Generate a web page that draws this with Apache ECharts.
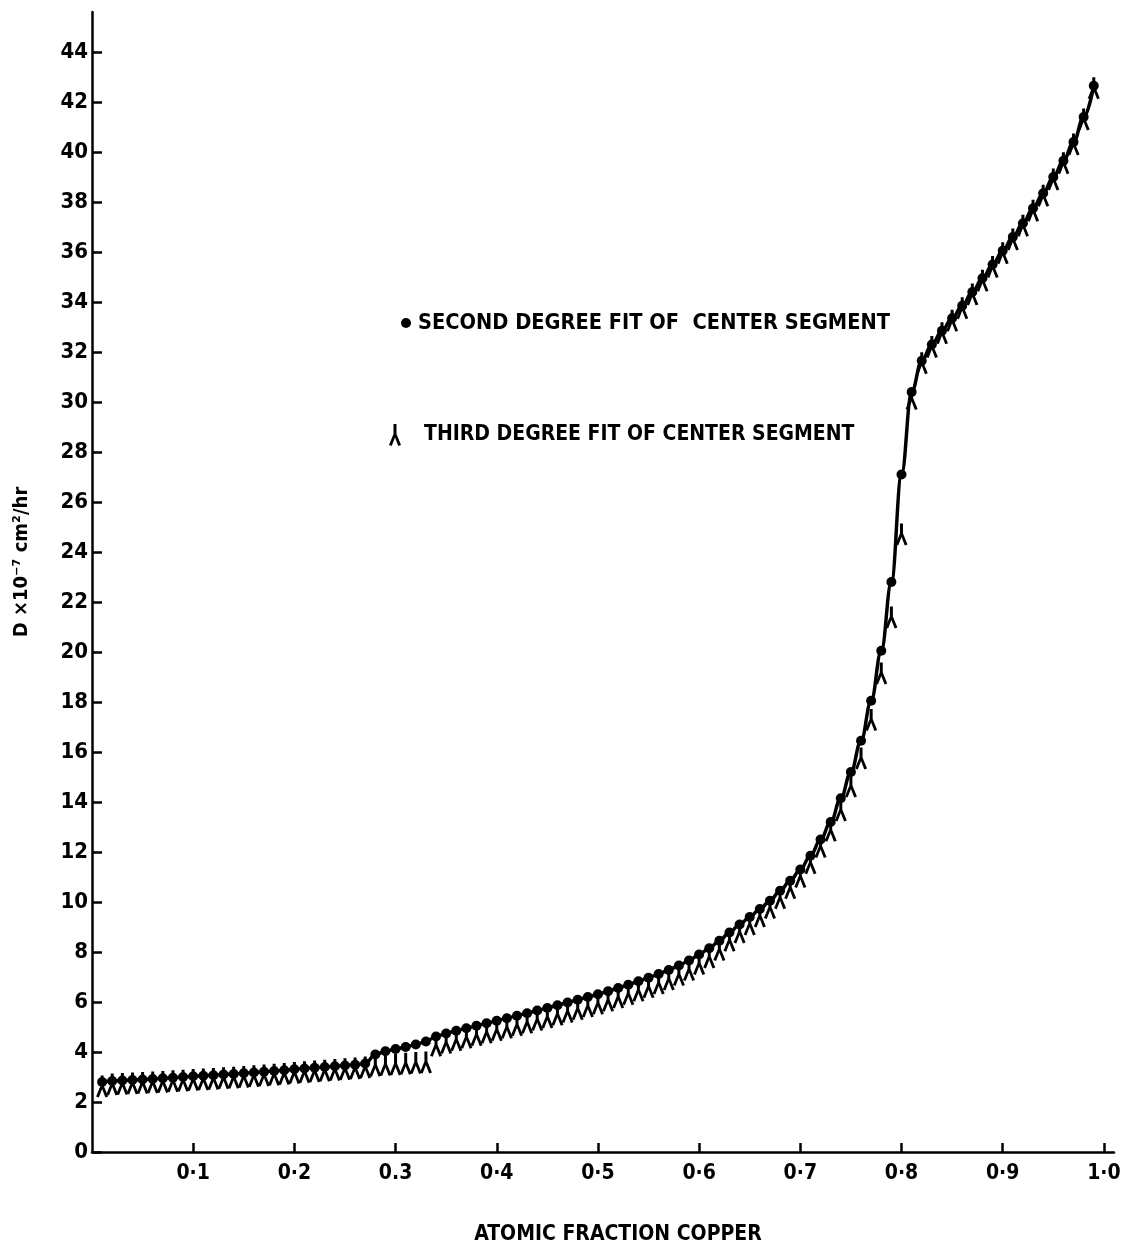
<!DOCTYPE html>
<html>
<head>
<meta charset="utf-8">
<script src="https://cdn.jsdelivr.net/npm/echarts@6/dist/echarts.min.js"></script>
<style>
html,body{margin:0;padding:0;background:#fff;}
#chart{width:1125px;height:1249px;}
</style>
</head>
<body>
<div id="chart"></div>
<script>
// Atomic fraction copper (x) for each fitted point
const atomicFraction = [
  0.01,0.02,0.03,0.04,0.05,0.06,0.07,0.08,0.09,0.10,
  0.11,0.12,0.13,0.14,0.15,0.16,0.17,0.18,0.19,0.20,
  0.21,0.22,0.23,0.24,0.25,0.26,0.27,0.28,0.29,0.30,
  0.31,0.32,0.33,0.34,0.35,0.36,0.37,0.38,0.39,0.40,
  0.41,0.42,0.43,0.44,0.45,0.46,0.47,0.48,0.49,0.50,
  0.51,0.52,0.53,0.54,0.55,0.56,0.57,0.58,0.59,0.60,
  0.61,0.62,0.63,0.64,0.65,0.66,0.67,0.68,0.69,0.70,
  0.71,0.72,0.73,0.74,0.75,0.76,0.77,0.78,0.79,0.80,
  0.81,0.82,0.83,0.84,0.85,0.86,0.87,0.88,0.89,0.90,
  0.91,0.92,0.93,0.94,0.95,0.96,0.97,0.98,0.99
];
// D x 10^-7 cm^2/hr, second degree fit of center segment
const secondDegree = [
  2.80,2.84,2.86,2.88,2.90,2.92,2.95,2.97,3.00,3.03,
  3.05,3.07,3.10,3.12,3.15,3.18,3.21,3.24,3.27,3.31,
  3.34,3.37,3.40,3.43,3.46,3.49,3.54,3.90,4.03,4.12,
  4.20,4.30,4.42,4.62,4.74,4.85,4.95,5.05,5.15,5.25,
  5.35,5.45,5.55,5.66,5.76,5.87,5.98,6.09,6.20,6.31,
  6.43,6.56,6.69,6.83,6.97,7.12,7.28,7.46,7.66,7.90,
  8.15,8.45,8.78,9.10,9.40,9.72,10.05,10.45,10.85,11.30,
  11.85,12.50,13.20,14.15,15.20,16.45,18.05,20.05,22.80,27.10,
  30.40,31.65,32.30,32.85,33.35,33.85,34.40,34.95,35.50,36.05,
  36.60,37.15,37.75,38.35,39.00,39.65,40.40,41.40,42.65
];
// D x 10^-7 cm^2/hr, third degree fit of center segment
const thirdDegree = [
  2.62,2.70,2.72,2.74,2.76,2.78,2.80,2.83,2.85,2.88,
  2.90,2.92,2.95,2.97,3.00,3.03,3.06,3.09,3.12,3.16,
  3.19,3.22,3.25,3.28,3.31,3.34,3.38,3.45,3.48,3.50,
  3.53,3.56,3.58,4.25,4.36,4.47,4.57,4.67,4.77,4.87,
  4.97,5.07,5.17,5.28,5.38,5.49,5.60,5.71,5.82,5.93,
  6.05,6.18,6.31,6.45,6.59,6.74,6.90,7.08,7.28,7.52,
  7.78,8.08,8.45,8.78,9.10,9.42,9.76,10.15,10.55,11.00,
  11.55,12.20,12.85,13.66,14.62,15.74,17.28,19.14,21.38,24.70,
  30.12,31.55,32.20,32.75,33.25,33.75,34.30,34.85,35.40,35.95,
  36.50,37.05,37.65,38.25,38.90,39.55,40.30,41.30,42.55
];
const xTickValues = [0.1,0.2,0.3,0.4,0.5,0.6,0.7,0.8,0.9,1.0];
const xTickLabels = ['0·1','0·2','0.3','0·4','0·5','0·6','0·7','0·8','0·9','1·0'];
const yTickValues = [0,2,4,6,8,10,12,14,16,18,20,22,24,26,28,30,32,34,36,38,40,42,44];
const seriesNames = ['SECOND DEGREE FIT OF  CENTER SEGMENT', 'THIRD DEGREE FIT OF CENTER SEGMENT'];

const FONT = "'DejaVu Sans Condensed', 'Liberation Sans Narrow', sans-serif";
const LAMBDA = 'path://M4.5,0 L7.5,0 L7.5,10 L12,21 L9.3,22 L6,13.5 L2.7,22 L0,21 L4.5,10 Z';

const pairs2 = atomicFraction.map((x, i) => [x, secondDegree[i]]);
const pairs3 = atomicFraction.map((x, i) => [x, thirdDegree[i]]);

const chart = echarts.init(document.getElementById('chart'), null, {renderer: 'canvas'});
chart.setOption({
  backgroundColor: '#ffffff',
  animation: false,
  grid: {left: 92, right: 11, top: 12, bottom: 97, containLabel: false, outerBoundsMode: 'none'},
  legend: [
    {
      data: [{name: seriesNames[0], icon: 'circle'}],
      left: 396, top: 307, itemWidth: 10, itemHeight: 10,
      textStyle: {fontFamily: FONT, fontWeight: 'bold', fontSize: 21.6, color: '#000', padding: [0,0,0,2]},
      selectedMode: false
    },
    {
      data: [{name: seriesNames[1], icon: LAMBDA, itemStyle: {opacity: 1}}],
      left: 384, top: 419, itemWidth: 12, itemHeight: 22,
      textStyle: {fontFamily: FONT, fontWeight: 'bold', fontSize: 21, color: '#000', padding: [0,0,0,18]},
      selectedMode: false
    }
  ],
  xAxis: {
    type: 'value', min: 0, max: 1.01,
    name: 'ATOMIC FRACTION COPPER',
    nameLocation: 'middle', nameGap: 72,
    nameTextStyle: {fontFamily: FONT, fontWeight: 'bold', fontSize: 21, color: '#000', padding: [0,0,0,30]},
    axisLine: {show: true, lineStyle: {color: '#000', width: 2.5}},
    axisTick: {show: true, inside: true, length: 9, customValues: xTickValues, lineStyle: {color: '#000', width: 2.5}},
    axisLabel: {
      customValues: xTickValues, margin: 11,
      fontFamily: FONT, fontWeight: 'bold', fontSize: 21, color: '#000',
      formatter: function (v) { return xTickLabels[Math.round(v * 10) - 1]; }
    },
    splitLine: {show: false}
  },
  yAxis: {
    type: 'value', min: 0, max: 45.6, interval: 2,
    name: 'D ×10⁻⁷ cm²/hr',
    nameLocation: 'middle', nameGap: 60, nameRotate: 90,
    nameTextStyle: {fontFamily: FONT, fontWeight: 'bold', fontSize: 20, color: '#000', padding: [0,0,0,40]},
    axisLine: {show: true, lineStyle: {color: '#000', width: 2.5}},
    axisTick: {show: true, inside: true, length: 10, customValues: yTickValues, lineStyle: {color: '#000', width: 2.5}},
    axisLabel: {
      customValues: yTickValues, margin: 4,
      fontFamily: FONT, fontWeight: 'bold', fontSize: 22, color: '#000'
    },
    splitLine: {show: false}
  },
  series: [
    {
      name: seriesNames[1],
      type: 'scatter',
      data: pairs3,
      symbol: LAMBDA,
      symbolSize: [12, 22],
      itemStyle: {color: '#000', opacity: 1},
      z: 2
    },
    {
      name: seriesNames[0],
      type: 'line',
      data: pairs2,
      smooth: 0.4,
      smoothMonotone: 'x',
      symbol: 'circle',
      symbolSize: 10,
      showSymbol: true,
      showAllSymbol: true,
      itemStyle: {color: '#000'},
      lineStyle: {color: '#000', width: 3.5},
      z: 3
    }
  ]
});
</script>
</body>
</html>
